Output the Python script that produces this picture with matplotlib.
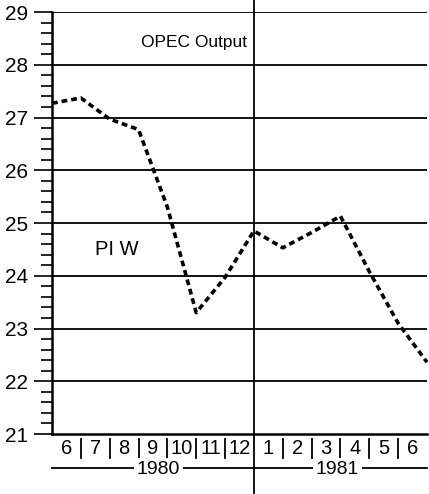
import matplotlib
matplotlib.use("Agg")
import matplotlib.pyplot as plt
from matplotlib.ticker import MultipleLocator
from matplotlib.transforms import blended_transform_factory

plt.rcParams['font.family'] = ['Liberation Sans', 'DejaVu Sans']
NARROW = ['Liberation Sans Narrow', 'Liberation Sans', 'DejaVu Sans']

# Month boundaries (0 = start of Jun 1980 ... 13 = end of Jun 1981)
x_pos = [0, 1, 2, 3, 4, 5, 6, 7, 8, 9, 10, 11, 12, 13]
piw = [27.27, 27.37, 26.97, 26.77, 25.3, 23.3, 23.97, 24.85, 24.53, 24.82, 25.13, 24.08, 23.1, 22.36]
months = ['6', '7', '8', '9', '10', '11', '12', '1', '2', '3', '4', '5', '6']
years = ['1980', '1981']
yticks = [21, 22, 23, 24, 25, 26, 27, 28, 29]

fig = plt.figure(figsize=(4.29, 4.94), dpi=100)
ax = fig.add_axes([52/429, 1-434/494, 375/429, 422/494])
ax.set_xlim(0, 13)
ax.set_ylim(21, 29)

for y in yticks[1:]:
    ax.axhline(y, color='black', lw=1.3, zorder=1)

ax.plot(x_pos, piw, color='black', lw=2.6, linestyle=(0, (1.6, 1.1)), zorder=3, clip_on=False)

for s in ['top', 'right']:
    ax.spines[s].set_visible(False)
ax.spines['left'].set_linewidth(1.8)
ax.spines['bottom'].set_linewidth(1.8)

ax.set_yticks(yticks)
ax.yaxis.set_minor_locator(MultipleLocator(0.2))
ax.tick_params(axis='y', which='major', length=13, width=1.2, pad=4, labelsize=15)
ax.tick_params(axis='y', which='minor', length=8, width=1.2)
for lab in ax.get_yticklabels():
    lab.set_family(NARROW)
ax.set_xticks([])

# vertical year divider spanning whole figure
tr_fig = blended_transform_factory(ax.transData, fig.transFigure)
ax.plot([7, 7], [0, 1], transform=tr_fig, color='black', lw=1.3, clip_on=False, zorder=4)

# month labels and separators below axis
tr = blended_transform_factory(ax.transData, ax.transAxes)
for i, m in enumerate(months):
    ax.text(i + 0.5, -0.035, m, transform=tr, ha='center', va='center', fontsize=14.5,
            family=NARROW, clip_on=False)
for b in range(1, 13):
    if b == 7:
        continue
    ax.plot([b, b], [-0.012, -0.058], transform=tr, color='black', lw=1.3, clip_on=False)

# year lines with labels
ax.plot([0, 13], [-0.081, -0.081], transform=tr, color='black', lw=1.3, clip_on=False)
for xp, yl in zip([3.68, 9.9], years):
    ax.text(xp, -0.083, yl, transform=tr, ha='center', va='center', fontsize=14,
            family=NARROW, bbox=dict(facecolor='white', edgecolor='none', pad=2),
            clip_on=False, zorder=5)

ax.text(3.07, 28.43, 'OPEC Output', ha='left', va='center', fontsize=12.5)
ax.text(1.5, 24.49, 'PI W', ha='left', va='center', fontsize=14.5)

fig.savefig('out.png', dpi=100)
